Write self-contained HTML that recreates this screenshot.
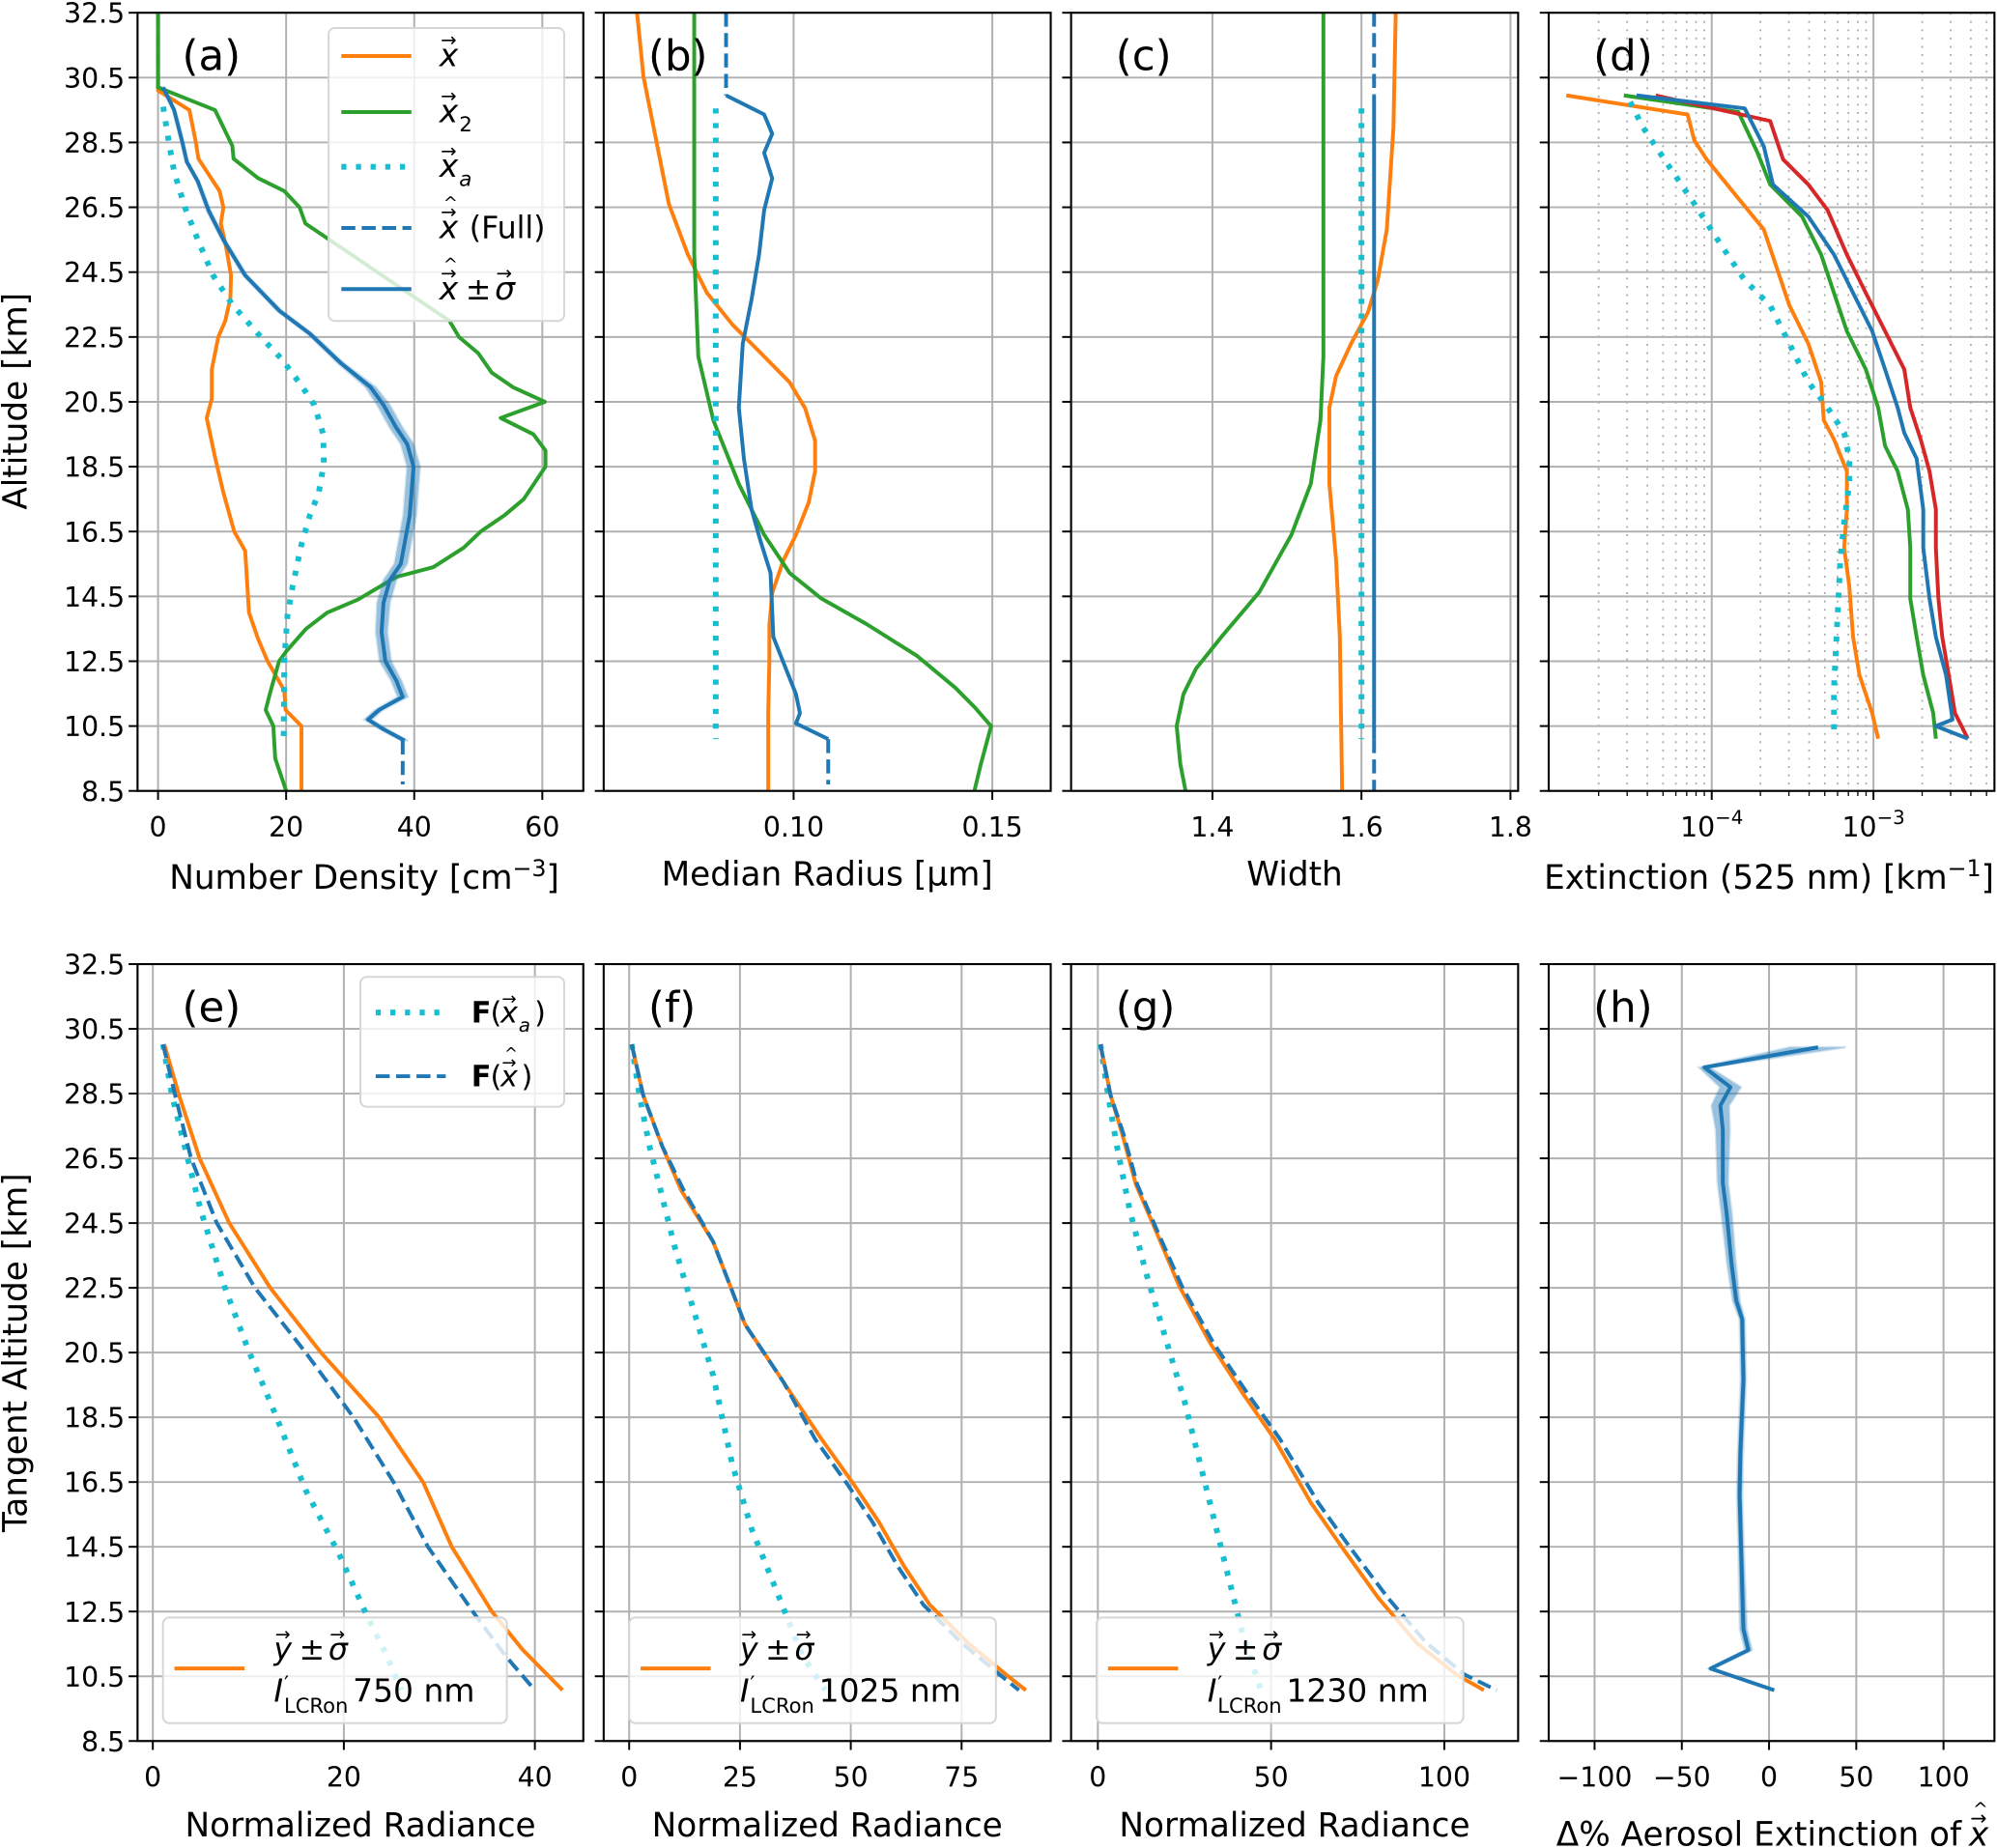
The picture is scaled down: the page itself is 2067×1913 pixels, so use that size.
<!DOCTYPE html>
<html><head><meta charset="utf-8">
<style>
html,body{margin:0;padding:0;background:#fff;}
svg{display:block;}
text{font-family:"DejaVu Sans","Liberation Sans",sans-serif;fill:#000;}
</style></head>
<body>
<svg id="fig" xmlns="http://www.w3.org/2000/svg" width="2067" height="1913" viewBox="0 0 1568 1451" preserveAspectRatio="none">
<rect width="1568" height="1451" fill="#fff"/>
</svg>
<script>
// ---------- DATA ----------
const aOrangeAlt=[32.5,30.1,29.5,28.5,28.0,27.0,26.5,26.0,25.3,24.4,23.7,23.0,22.5,21.5,20.6,20.0,18.8,17.7,16.5,15.9,14.0,13.2,12.5,11.6,11.0,10.5,8.5];
const aOrangeVal=[0,0,4.9,5.9,6.3,9.6,10.2,9.8,10.6,11.4,11.3,10.5,9.4,8.4,8.4,7.6,8.9,10.2,11.9,13.6,14.2,15.6,17.1,19.7,19.9,22.4,22.4];
const aGreenAlt=[32.5,30.2,29.5,28.4,28.0,27.4,27.0,26.5,26.0,23.0,22.5,22.0,21.4,20.95,20.5,20.0,19.5,19.0,18.5,17.5,17.0,16.5,16.0,15.4,15.1,14.4,14.0,13.5,12.8,12.5,11.6,11.0,10.5,9.5,8.5];
const aGreenVal=[0,0,8.9,11.6,11.8,15.6,19.7,22.1,23.0,45.5,47.0,50.0,52.1,55.4,60.4,53.5,58.6,60.5,60.5,57.1,54.1,50.4,47.7,43.0,37.2,31.2,26.4,23.1,20.0,18.9,17.6,16.8,18.0,18.3,20.0];
const aCyanAlt=[29.6,28.5,27.6,26.5,25.5,24.4,23.5,22.6,21.8,21.0,20.4,19.5,18.6,17.7,17.0,16.1,14.8,13.9,12.5,10.0];
const aCyanVal=[0.8,1.7,2.5,4.2,6.2,8.6,11.6,15.6,19.4,22.4,24.4,25.8,25.9,25.1,23.7,22.4,21.0,20.2,19.7,19.6];
const aBlueAlt=[30.2,29.5,28.5,27.9,27.3,26.4,25.5,24.4,23.3,22.6,21.7,20.95,20.4,19.7,19.2,18.5,17.0,15.5,15.0,14.3,13.4,12.5,11.9,11.4,11.0,10.7,10.4,10.05];
const aBlueVal=[0.8,2.5,3.8,4.5,6.2,7.9,10.2,13.6,19.0,23.7,28.5,33.2,35.2,37.2,38.9,39.9,39.3,37.9,36.2,35.2,34.9,35.5,37.2,38.2,34.5,32.8,35.2,38.5];
const aBlueSig=[0.2,0.2,0.2,0.2,0.2,0.3,0.3,0.3,0.4,0.4,0.5,0.8,1.0,1.0,1.0,1.0,1.0,1.0,1.0,1.0,0.9,0.9,0.8,0.8,0.6,0.6,0.5,0.5];
const aFullTopAlt=[32.5,30.2], aFullTopVal=[0,0];
const aFullBotAlt=[10.05,8.7], aFullBotVal=[38.2,38.2];
const bOrangeAlt=[32.5,30.54,28.57,26.6,25.04,23.86,22.88,21.9,21.1,20.3,19.3,18.36,17.4,16.4,15.6,14.6,13.6,12.5,10.9,8.5];
const bOrangeVal=[0.0606,0.0622,0.0654,0.0686,0.0734,0.0782,0.0846,0.0926,0.099,0.1029,0.1054,0.1054,0.1038,0.1006,0.0974,0.0946,0.0939,0.0939,0.0936,0.0936];
const bGreenAlt=[32.5,25.04,21.9,19.93,17.97,16.4,15.22,14.43,13.65,12.66,11.68,11.09,10.5,9.32,8.5];
const bGreenVal=[0.075,0.075,0.076,0.0798,0.0862,0.0926,0.099,0.107,0.1183,0.1311,0.1407,0.1455,0.1497,0.1471,0.1455];
const bCyanAlt=[29.55,10.1], bCyanVal=[0.0804,0.0804];
const bBlueAlt=[29.95,29.36,28.77,28.18,27.39,26.41,25.04,23.66,22.29,20.32,18.75,17.18,16.2,15.22,13.25,12.47,11.48,10.9,10.58,10.1];
const bBlueVal=[0.083,0.0926,0.0946,0.0926,0.0946,0.0926,0.0913,0.0894,0.0872,0.0862,0.0875,0.0894,0.0917,0.0942,0.0949,0.0974,0.1006,0.1016,0.1006,0.1087];
const bFullTopAlt=[32.5,29.95], bFullTopVal=[0.083,0.083];
const bFullBotAlt=[10.1,8.7], bFullBotVal=[0.1087,0.1087];
const cOrangeAlt=[32.5,28.96,25.82,24.25,23.27,22.29,21.3,20.32,17.97,15.6,13.25,8.5];
const cOrangeVal=[1.646,1.643,1.634,1.622,1.609,1.586,1.566,1.557,1.557,1.566,1.571,1.574];
const cGreenAlt=[32.5,21.9,19.93,17.97,16.4,14.63,13.25,12.27,11.48,10.5,9.32,8.5];
const cGreenVal=[1.549,1.549,1.545,1.532,1.506,1.463,1.412,1.378,1.361,1.352,1.357,1.364];
const cCyanAlt=[29.55,10.1], cCyanVal=[1.6,1.6];
const cBlueAlt=[29.95,10.1], cBlueVal=[1.617,1.617];
const cFullTopAlt=[32.5,29.95], cFullTopVal=[1.617,1.617];
const cFullBotAlt=[10.1,8.5], cFullBotVal=[1.617,1.617];
const dOrangeAlt=[29.95,29.36,28.57,27.98,27.0,25.82,24.64,23.47,22.29,21.11,19.93,19.34,18.36,17.18,16.0,14.82,13.25,12.07,10.9,10.11];
const dOrangeVal=[1.26e-5,7.1e-5,7.8e-5,9.3e-5,1.34e-4,2.1e-4,2.52e-4,3.02e-4,3.96e-4,4.75e-4,4.93e-4,5.7e-4,6.84e-4,6.84e-4,6.59e-4,7.09e-4,7.48e-4,8.19e-4,9.82e-4,1.07e-3];
const dGreenAlt=[29.95,29.44,28.18,27.2,26.21,25.04,23.86,22.68,21.5,20.32,19.14,18.36,17.18,16.0,14.43,13.25,12.07,10.9,10.11];
const dGreenVal=[2.86e-5,1.46e-4,1.92e-4,2.3e-4,3.62e-4,4.75e-4,5.7e-4,6.84e-4,8.97e-4,1.07e-3,1.18e-3,1.41e-3,1.63e-3,1.69e-3,1.69e-3,1.85e-3,2.03e-3,2.34e-3,2.43e-3];
const dBlueAlt=[29.95,29.55,28.38,27.2,26.21,25.04,23.86,22.68,21.5,20.32,19.54,18.75,17.18,16.0,14.43,13.25,12.07,10.7,10.5,10.11];
const dBlueVal=[3.43e-5,1.6e-4,2.1e-4,2.39e-4,3.96e-4,5.7e-4,7.48e-4,9.82e-4,1.18e-3,1.41e-3,1.55e-3,1.85e-3,2.03e-3,2.03e-3,2.22e-3,2.43e-3,2.81e-3,3.08e-3,2.43e-3,3.83e-3];
const dRedAlt=[29.95,29.16,27.98,27.2,26.41,25.04,23.86,22.68,21.5,20.32,19.34,18.36,17.18,16.0,14.43,13.25,12.07,10.9,10.11];
const dRedVal=[4.5e-5,2.3e-4,2.76e-4,3.96e-4,5.21e-4,6.84e-4,8.97e-4,1.18e-3,1.55e-3,1.69e-3,1.96e-3,2.22e-3,2.43e-3,2.43e-3,2.52e-3,2.66e-3,2.92e-3,3.19e-3,3.83e-3];
const dCyanAlt=[29.75,28.96,27.79,26.61,25.43,24.25,23.47,22.29,21.11,20.32,19.54,18.75,17.97,16.79,15.61,14.04,11.68,10.11];
const dCyanVal=[3.13e-5,3.76e-5,5.4e-5,7.8e-5,1.11e-4,1.6e-4,2.3e-4,3.02e-4,3.96e-4,5.21e-4,6.59e-4,7.09e-4,7.09e-4,6.59e-4,6.24e-4,6.02e-4,5.7e-4,5.7e-4];
// Panel (e) 750 nm
const eOrangeAlt=[30.02,28.5,26.5,24.5,22.5,20.5,18.5,16.5,14.5,12.5,11.33,10.07];
const eOrangeVal=[1.2,2.7,4.9,8.0,12.3,17.6,23.7,28.3,31.3,35.5,38.7,42.9];
const eBlueAlt=[30.02,28.5,26.5,24.5,22.5,20.5,18.5,16.5,14.5,12.5,11.14,10.07];
const eBlueVal=[1.07,2.3,4.0,6.7,10.7,16.0,21.0,25.2,28.8,33.5,36.9,40.0];
const eCyanAlt=[30.02,28.45,26.87,24.91,22.55,20.58,18.61,16.25,14.28,12.32,11.14,10.07];
const eCyanVal=[1.07,2.0,3.33,5.0,7.5,10.0,12.8,16.0,19.5,22.5,24.5,26.0];
const fOrangeAlt=[30.02,28.45,26.87,25.5,23.92,21.37,19.6,17.83,16.45,15.27,13.89,12.71,11.53,10.55,10.07];
const fOrangeVal=[0.57,3.16,7.47,11.78,18.97,26.15,34.77,43.39,50.57,56.32,62.07,67.82,76.44,85.06,89.5];
const fBlueAlt=[30.02,28.45,26.87,25.5,23.92,21.37,19.6,17.83,16.45,15.27,13.89,12.71,11.53,10.55,10.07];
const fBlueVal=[0.57,3.16,7.47,12.36,18.97,26.15,34.77,41.95,49.14,54.89,60.63,66.38,75.0,83.62,87.93];
const fCyanAlt=[30.02,28.45,26.87,25.3,23.73,21.76,19.79,17.04,15.07,13.11,11.14,10.07];
const fCyanVal=[0.57,2.3,4.6,7.47,10.34,14.66,18.97,23.28,27.59,33.33,39.08,44.25];
const gOrangeAlt=[30.02,28.45,27.27,25.69,24.32,22.55,20.78,19.21,17.83,15.86,14.48,12.91,11.53,10.55,10.07];
const gOrangeVal=[0.74,3.68,7.0,11.0,16.5,23.5,32.5,42.0,51.0,61.5,70.5,81.0,92.0,103.5,111.4];
const gBlueAlt=[30.02,28.45,27.27,25.69,24.32,22.55,20.78,19.21,17.83,15.86,14.48,12.91,11.53,10.55,10.07];
const gBlueVal=[0.74,3.68,7.35,11.4,16.91,24.26,33.46,43.38,52.57,63.6,72.79,83.82,94.85,105.88,115.07];
const gCyanAlt=[30.02,28.45,26.87,24.91,22.94,20.97,19.0,16.65,14.28,11.92,10.07];
const gCyanVal=[0.74,2.94,5.51,9.19,13.97,19.49,25.0,30.51,36.03,41.54,47.06];
const hAlt=[29.93,29.31,28.7,28.13,27.39,25.74,24.81,23.24,22.1,21.53,19.67,17.39,16.1,14.39,11.96,11.31,10.74,10.07];
const hVal=[28.1,-37.1,-22.1,-27.9,-26.5,-26.5,-24.3,-21.5,-18.8,-15.4,-14.7,-16.4,-16.9,-16.0,-14.7,-11.8,-33.5,2.9];
const hSig=[16,3,6,5,4,3,3,2.5,2,1.5,1.5,1.5,1.5,1.5,2,2,1,0.5];
const yTicks=[32.5,30.5,28.5,26.5,24.5,22.5,20.5,18.5,16.5,14.5,12.5,10.5,8.5];

// ---------- HELPERS ----------
const NS='http://www.w3.org/2000/svg';
const svg=document.getElementById('fig');
const C={orange:'#ff7f0e',green:'#2ca02c',cyan:'#17becf',blue:'#1f77b4',red:'#d62728'};
const TF=26;
function mk(tag,attrs,parent){const e=document.createElementNS(NS,tag);for(const k in attrs)e.setAttribute(k,attrs[k]);(parent||svg).appendChild(e);return e;}
function txt(s,x,y,size,anchor,parent){const t=mk('text',{x:x,y:y,'font-size':size,'text-anchor':anchor||'start'},parent);t.textContent=s;return t;}

function makePanel(name,x0,x1,y0,y1,dom,log){
  const p={x0,x1,y0,y1,dom,log};
  p.sx=v=>{const a=log?Math.log10(v):v;return x0+(a-dom[0])/(dom[1]-dom[0])*(x1-x0);};
  p.sy=a=>y0+(32.5-a)/24*(y1-y0);
  p.g=mk('g',{});
  
  
  const clip=mk('clipPath',{id:'clip-'+name});
  mk('rect',{x:x0,y:y0,width:x1-x0,height:y1-y0},clip);
  p.grid=mk('g',{},p.g);
  p.plot=mk('g',{'clip-path':'url(#clip-'+name+')'},p.g);
  p.over=mk('g',{},p.g);
  return p;
}
function drawAxes(p,xt,xl,showY,xlabel,xlabelY){
  yTicks.forEach(a=>{const y=p.sy(a);
    const gl=mk('line',{x1:p.x0,x2:p.x1,y1:y,y2:y,stroke:'#b0b0b0','stroke-width':1.5},p.grid);
    
    
    mk('line',{x1:p.x0-7,x2:p.x0,y1:y,y2:y,stroke:'#000','stroke-width':1.5},p.over);
    if(showY){const t=txt(a.toFixed(1),p.x0-10,y+8,21.5,'end',p.over);
      
      }
  });
  xt.forEach((v,i)=>{const x=p.sx(v);
    const gl=mk('line',{x1:x,x2:x,y1:p.y0,y2:p.y1,stroke:'#b0b0b0','stroke-width':1.5},p.grid);
    
    
    mk('line',{x1:x,x2:x,y1:p.y1,y2:p.y1+7,stroke:'#000','stroke-width':1.5},p.over);
    const t=txt(xl[i],x,p.y1+36,21.5,'middle',p.over);
    
    
  });
  const f=mk('rect',{x:p.x0,y:p.y0,width:p.x1-p.x0,height:p.y1-p.y0,fill:'none',stroke:'#000','stroke-width':1.6},p.over);
  
  
  if(xlabel){const t=txt(xlabel,(p.x0+p.x1)/2,xlabelY,TF,'middle',p.over);
    
    }
}
function pts(p,alts,vals){return alts.map((a,i)=>p.sx(vals[i]).toFixed(1)+','+p.sy(a).toFixed(1)).join(' ');}
function line(p,alts,vals,color,style,name,w){
  const attrs={points:pts(p,alts,vals),fill:'none',stroke:color,'stroke-width':w||3,'stroke-linejoin':'round'};
  if(style==='dash')attrs['stroke-dasharray']='11,5';
  if(style==='dot'){attrs['stroke-dasharray']='4,7.5';attrs['stroke-width']=4.5;}
  const e=mk('polyline',attrs,p.plot);
  
  
  return e;
}
function band(p,alts,vals,sig,color,name){
  const l=alts.map((a,i)=>p.sx(vals[i]-sig[i]).toFixed(1)+','+p.sy(a).toFixed(1));
  const r=alts.map((a,i)=>p.sx(vals[i]+sig[i]).toFixed(1)+','+p.sy(a).toFixed(1)).reverse();
  const e=mk('polygon',{points:l.concat(r).join(' '),fill:color,opacity:0.45,stroke:color,'stroke-width':2,'stroke-opacity':0.4},p.plot);
  
  
}
function panelLabel(p,s){const t=txt(s,p.x0+35,p.y0+45,33,'start',p.over);
  
  }
function vec(parent,x,y,letter,sub,hat,size){
  size=size||23;
  const t=txt(letter,x,y,size,'start',parent);t.setAttribute('font-style','italic');
  txt('\u2192',x+1,y-size*0.62,size*0.6,'start',parent);
  if(hat)txt('^',x+3,y-size*0.92,size*0.55,'start',parent);
  let w=size*0.62;
  if(sub){const s=txt(sub,x+w,y+7,size*0.65,'start',parent);s.setAttribute('font-style',sub==='a'?'italic':'normal');w+=size*0.45;}
  return x+w;
}

// ---------- PANELS ----------
const pa=makePanel('panel-a-number-density',108,458,10,621,[-3.2,66.4]);
drawAxes(pa,[0,20,40,60],['0','20','40','60'],true,'',0);
const pb=makePanel('panel-b-median-radius',474,825,10,621,[0.0522,0.1647]);
drawAxes(pb,[0.10,0.15],['0.10','0.15'],false,'Median Radius [\u03bcm]',695);
const pc=makePanel('panel-c-width',841,1192,10,621,[1.2103,1.8103]);
drawAxes(pc,[1.4,1.6,1.8],['1.4','1.6','1.8'],false,'Width',695);
const pd=makePanel('panel-d-extinction',1216,1566,10,621,[-5.008,-2.252],true);
for(let e=-5;e<=-3;e++)for(let k=2;k<=9;k++){const v=k*Math.pow(10,e);const x=pd.sx(v);if(x>pd.x0&&x<pd.x1){
  const gl=mk('line',{x1:x,x2:x,y1:pd.y0,y2:pd.y1,stroke:'#aaa','stroke-width':1.3,'stroke-dasharray':'1.5,5'},pd.grid);
  
  
  mk('line',{x1:x,x2:x,y1:pd.y1,y2:pd.y1+4,stroke:'#000','stroke-width':1},pd.over);}}
drawAxes(pd,[1e-4,1e-3],['',''],false,'',0);
const pe=makePanel('panel-e-750nm',108,458,757,1367,[-1.6,45.07]);
drawAxes(pe,[0,20,40],['0','20','40'],true,'Normalized Radiance',1442);
const pf=makePanel('panel-f-1025nm',474,825,757,1367,[-5.75,95.11]);
drawAxes(pf,[0,25,50,75],['0','25','50','75'],false,'Normalized Radiance',1442);
const pg=makePanel('panel-g-1230nm',841,1192,757,1367,[-7.72,121.3]);
drawAxes(pg,[0,50,100],['0','50','100'],false,'Normalized Radiance',1442);
const ph=makePanel('panel-h-delta',1216,1566,757,1367,[-126.3,129.2]);
drawAxes(ph,[-100,-50,0,50,100],['\u2212100','\u221250','0','50','100'],false,'',0);

(function(){
  let t=txt('',286,698,TF,'middle',pa.over);t.innerHTML='Number Density [cm<tspan dy="-10" font-size="18">\u22123</tspan><tspan dy="10">]</tspan>';
  
  [[1e-4,'\u22124'],[1e-3,'\u22123']].forEach(([v,s])=>{const x=pd.sx(v);const tt=txt('',x,pd.y1+36,21.5,'middle',pd.over);
    tt.innerHTML='10<tspan dy="-10" font-size="15">'+s+'</tspan>';});
  t=txt('',1389,698,TF,'middle',pd.over);t.innerHTML='Extinction (525 nm) [km<tspan dy="-10" font-size="18">\u22121</tspan><tspan dy="10">]</tspan>';
  
  t=txt('\u0394% Aerosol Extinction of',1540,1449,TF,'end',ph.over);
  
  vec(ph.over,1546,1449,'x','',true,TF);
  t=txt('Altitude [km]',0,0,TF,'middle');t.setAttribute('transform','translate(21,315) rotate(-90)');
  
  t=txt('Tangent Altitude [km]',0,0,TF,'middle');t.setAttribute('transform','translate(21,1062) rotate(-90)');
  
})();

line(pa,aFullTopAlt,aFullTopVal,C.blue,'dash','a-xhat-full-top');
line(pa,aOrangeAlt,aOrangeVal,C.orange,'solid','a-x-true');
line(pa,aGreenAlt,aGreenVal,C.green,'solid','a-x2');
line(pa,aCyanAlt,aCyanVal,C.cyan,'dot','a-x-apriori');
band(pa,aBlueAlt,aBlueVal,aBlueSig,C.blue,'a-xhat-uncertainty');
line(pa,aBlueAlt,aBlueVal,C.blue,'solid','a-xhat');
line(pa,aFullBotAlt,aFullBotVal,C.blue,'dash','a-xhat-full-bottom');
line(pb,bOrangeAlt,bOrangeVal,C.orange,'solid','b-x-true');
line(pb,bGreenAlt,bGreenVal,C.green,'solid','b-x2');
line(pb,bCyanAlt,bCyanVal,C.cyan,'dot','b-x-apriori');
line(pb,bFullTopAlt,bFullTopVal,C.blue,'dash','b-xhat-full-top');
line(pb,bBlueAlt,bBlueVal,C.blue,'solid','b-xhat');
line(pb,bFullBotAlt,bFullBotVal,C.blue,'dash','b-xhat-full-bottom');
line(pc,cOrangeAlt,cOrangeVal,C.orange,'solid','c-x-true');
line(pc,cGreenAlt,cGreenVal,C.green,'solid','c-x2');
line(pc,cCyanAlt,cCyanVal,C.cyan,'dot','c-x-apriori');
line(pc,cFullTopAlt,cFullTopVal,C.blue,'dash','c-xhat-full-top');
line(pc,cBlueAlt,cBlueVal,C.blue,'solid','c-xhat');
line(pc,cFullBotAlt,cFullBotVal,C.blue,'dash','c-xhat-full-bottom');
line(pd,dOrangeAlt,dOrangeVal,C.orange,'solid','d-x-true');
line(pd,dCyanAlt,dCyanVal,C.cyan,'dot','d-x-apriori');
line(pd,dGreenAlt,dGreenVal,C.green,'solid','d-x2');
line(pd,dRedAlt,dRedVal,C.red,'solid','d-extinction-red');
line(pd,dBlueAlt,dBlueVal,C.blue,'solid','d-xhat');
[[pe,eOrangeAlt,eOrangeVal,eBlueAlt,eBlueVal,eCyanAlt,eCyanVal,'e'],
 [pf,fOrangeAlt,fOrangeVal,fBlueAlt,fBlueVal,fCyanAlt,fCyanVal,'f'],
 [pg,gOrangeAlt,gOrangeVal,gBlueAlt,gBlueVal,gCyanAlt,gCyanVal,'g']].forEach(r=>{
  line(r[0],r[5],r[6],C.cyan,'dot',r[7]+'-forward-apriori');
  line(r[0],r[1],r[2],C.orange,'solid',r[7]+'-measurement');
  line(r[0],r[3],r[4],C.blue,'dash',r[7]+'-forward-retrieved');
});
band(ph,hAlt,hVal,hSig,C.blue,'h-uncertainty');
line(ph,hAlt,hVal,C.blue,'solid','h-delta-percent');

[[pa,'(a)'],[pb,'(b)'],[pc,'(c)'],[pd,'(d)'],[pe,'(e)'],[pf,'(f)'],[pg,'(g)'],[ph,'(h)']].forEach(q=>panelLabel(q[0],q[1]));

function legBox(x,y,w,h,name){const g=mk('g',{});
  
  
  mk('rect',{x:x,y:y,width:w,height:h,rx:5,fill:'#fff','fill-opacity':0.8,stroke:'#d6d6d6','stroke-width':1.5},g);return g;}
function legLine(g,x,y,color,style){const a={x1:x,x2:x+55,y1:y,y2:y,stroke:color,'stroke-width':3};
  if(style==='dash')a['stroke-dasharray']='11,5';
  if(style==='dot'){a['stroke-dasharray']='4,7.5';a['stroke-width']=4.5;}
  const l=mk('line',a,g);}
(function(){
  const g=legBox(258,22,185,230,'legend-a');
  legLine(g,268,44,C.orange,'solid'); vec(g,345,52,'x','',false,25);
  legLine(g,268,88,C.green,'solid'); vec(g,345,96,'x','2',false,25);
  legLine(g,268,131,C.cyan,'dot'); vec(g,345,139,'x','a',false,25);
  legLine(g,268,179,C.blue,'dash'); const xe=vec(g,345,187,'x','',true,25); txt('(Full)',xe+8,187,24,'start',g);
  legLine(g,268,227,C.blue,'solid'); const x2=vec(g,345,235,'x','',true,25); txt('\u00b1',x2+5,235,24,'start',g); vec(g,x2+28,235,'\u03c3','',false,25);
  const g2=legBox(283,767,160,102,'legend-e-forward');
  legLine(g2,295,795,C.cyan,'dot');
  let t=txt('F',370,803,23,'start',g2);t.setAttribute('font-weight','bold');txt('(',385,803,23,'start',g2);
  let xx=vec(g2,393,803,'x','a',false,23);txt(')',xx+2,803,23,'start',g2);
  legLine(g2,295,845,C.blue,'dash');
  t=txt('F',370,853,23,'start',g2);t.setAttribute('font-weight','bold');txt('(',385,853,23,'start',g2);
  xx=vec(g2,393,853,'x','',true,23);txt(')',xx+2,853,23,'start',g2);
  [[pe,'750 nm'],[pf,'1025 nm'],[pg,'1230 nm']].forEach(q=>{
    const bx=q[0].x0+20;const gg=legBox(bx,1270,q[1]==='750 nm'?270:288,83,'legend-measurement-'+q[1].replace(' ',''));
    legLine(gg,bx+9,1310,C.orange,'solid');
    const x0=bx+87;
    const xv=vec(gg,x0,1303,'y','',false,24);txt('\u00b1',xv+5,1303,24,'start',gg);vec(gg,xv+28,1303,'\u03c3','',false,24);
    const ti=txt('I',x0,1336,25,'start',gg);ti.setAttribute('font-style','italic');
    txt('\u2032',x0+8,1328,17,'start',gg);
    txt('LCRon',x0+8,1345,16,'start',gg);
    txt(q[1],x0+62,1336,25,'start',gg);
  });
})();
</script>
</body></html>
